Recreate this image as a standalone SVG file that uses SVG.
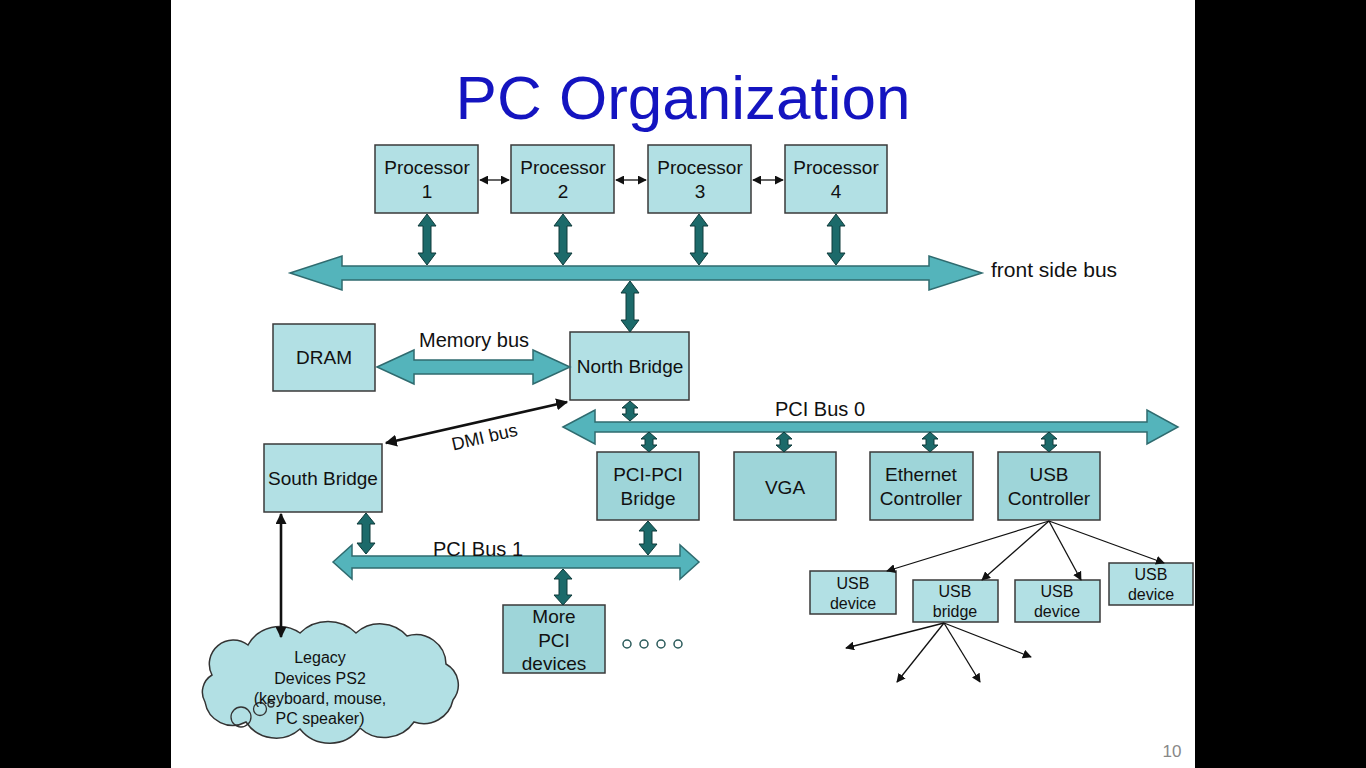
<svg xmlns="http://www.w3.org/2000/svg" width="1366" height="768" viewBox="0 0 1366 768">
<defs>
<style>
.t{font-family:"Liberation Sans",Arial,sans-serif;fill:#111;text-anchor:middle}
.box{fill:#b2e0e4;stroke:#3a3a3a;stroke-width:1.5}
.box2{fill:#9ed5d9;stroke:#3a3a3a;stroke-width:1.5}
.bus{fill:#54b4bb;stroke:#2f6b6f;stroke-width:1.5}
.va{fill:#1c6a6a;stroke:#0e3a3a;stroke-width:1}
.thin{stroke:#111;stroke-width:1.3;fill:none}
.thick{stroke:#111;stroke-width:2.6;fill:none}
</style>
<marker id="ah" viewBox="0 0 10 10" refX="9" refY="5" markerWidth="9" markerHeight="9" markerUnits="userSpaceOnUse" orient="auto-start-reverse"><path d="M0,0 L10,5 L0,10 z" fill="#111"/></marker>
<marker id="ahs" viewBox="0 0 10 10" refX="9" refY="5" markerWidth="11" markerHeight="11" markerUnits="userSpaceOnUse" orient="auto-start-reverse"><path d="M0,0 L10,5 L0,10 z" fill="#111"/></marker>
<marker id="ahb" viewBox="0 0 10 10" refX="9" refY="5" markerWidth="12" markerHeight="12" markerUnits="userSpaceOnUse" orient="auto-start-reverse"><path d="M0,0 L10,5 L0,10 z" fill="#111"/></marker>
</defs>
<rect x="0" y="0" width="1366" height="768" fill="#000"/>
<rect x="171" y="0" width="1024" height="768" fill="#fff"/>
<text x="683" y="119" font-family="Liberation Sans,Arial,sans-serif" font-size="62" fill="#1414c0" text-anchor="middle">PC Organization</text>

<g id="proc1"><rect class="box" x="375" y="145" width="103" height="68"/><text class="t" x="427" y="174" font-size="19">Processor</text><text class="t" x="427" y="198" font-size="19">1</text></g>
<g id="proc2"><rect class="box" x="511" y="145" width="103" height="68"/><text class="t" x="563" y="174" font-size="19">Processor</text><text class="t" x="563" y="198" font-size="19">2</text></g>
<g id="proc3"><rect class="box" x="648" y="145" width="103" height="68"/><text class="t" x="700" y="174" font-size="19">Processor</text><text class="t" x="700" y="198" font-size="19">3</text></g>
<g id="proc4"><rect class="box" x="785" y="145" width="102" height="68"/><text class="t" x="836" y="174" font-size="19">Processor</text><text class="t" x="836" y="198" font-size="19">4</text></g>

<g id="dram"><rect class="box" x="273" y="324" width="102" height="67"/><text class="t" x="324" y="364" font-size="19">DRAM</text></g>
<g id="northbridge"><rect class="box" x="570" y="332" width="119" height="68"/><text class="t" x="630" y="373" font-size="19">North Bridge</text></g>
<g id="southbridge"><rect class="box" x="264" y="444" width="118" height="68"/><text class="t" x="323" y="485" font-size="19">South Bridge</text></g>

<g id="pcipci"><rect class="box2" x="597" y="452" width="102" height="68"/><text class="t" x="648" y="481" font-size="19">PCI-PCI</text><text class="t" x="648" y="505" font-size="19">Bridge</text></g>
<g id="vga"><rect class="box2" x="734" y="452" width="102" height="68"/><text class="t" x="785" y="494" font-size="19">VGA</text></g>
<g id="ethernet"><rect class="box2" x="870" y="452" width="103" height="68"/><text class="t" x="921" y="481" font-size="19">Ethernet</text><text class="t" x="921" y="505" font-size="19">Controller</text></g>
<g id="usbctrl"><rect class="box2" x="998" y="452" width="102" height="68"/><text class="t" x="1049" y="481" font-size="19">USB</text><text class="t" x="1049" y="505" font-size="19">Controller</text></g>

<g id="morepci"><rect class="box2" x="503" y="605" width="102" height="68"/><text class="t" x="554" y="623" font-size="19">More</text><text class="t" x="554" y="647" font-size="19">PCI</text><text class="t" x="554" y="670" font-size="19">devices</text></g>
<g id="dots" fill="none" stroke="#2a5a5a" stroke-width="1.5"><circle cx="627" cy="644" r="4"/><circle cx="644" cy="644" r="4"/><circle cx="661" cy="644" r="4"/><circle cx="678" cy="644" r="4"/></g>

<g id="usbdev1"><rect class="box" x="810" y="571" width="86" height="43"/><text class="t" x="853" y="589" font-size="16">USB</text><text class="t" x="853" y="609" font-size="16">device</text></g>
<g id="usbbridge"><rect class="box" x="913" y="580" width="85" height="42"/><text class="t" x="955" y="597" font-size="16">USB</text><text class="t" x="955" y="617" font-size="16">bridge</text></g>
<g id="usbdev2"><rect class="box" x="1015" y="580" width="85" height="42"/><text class="t" x="1057" y="597" font-size="16">USB</text><text class="t" x="1057" y="617" font-size="16">device</text></g>
<g id="usbdev3"><rect class="box" x="1109" y="563" width="84" height="42"/><text class="t" x="1151" y="580" font-size="16">USB</text><text class="t" x="1151" y="600" font-size="16">device</text></g>

<g id="legacy">
<path d="M212,675 A24,24 0 0 1 248,645 A36,36 0 0 1 300,633 A40,40 0 0 1 356,633 A36,36 0 0 1 407,636 A30,30 0 0 1 446,664 A24,24 0 0 1 453,700 A30,30 0 0 1 414,722 A36,36 0 0 1 360,728 A38,38 0 0 1 300,729 A36,36 0 0 1 246,722 A28,28 0 0 1 205,702 A20,20 0 0 1 212,675 Z" fill="#b2e0e4" stroke="#333" stroke-width="1.5"/>
<circle cx="241" cy="717" r="10" fill="none" stroke="#333" stroke-width="1.3"/>
<circle cx="260" cy="709" r="6.5" fill="none" stroke="#333" stroke-width="1.3"/>
<circle cx="271" cy="704" r="3" fill="none" stroke="#333" stroke-width="1.3"/>
<text class="t" x="320" y="663" font-size="16">Legacy</text>
<text class="t" x="320" y="684" font-size="16">Devices PS2</text>
<text class="t" x="320" y="704" font-size="16">(keyboard, mouse,</text>
<text class="t" x="320" y="724" font-size="16">PC speaker)</text>
</g>

<g id="connectors">
<line class="thin" x1="480" y1="180" x2="509" y2="180" marker-start="url(#ah)" marker-end="url(#ah)"/>
<line class="thin" x1="616" y1="180" x2="646" y2="180" marker-start="url(#ah)" marker-end="url(#ah)"/>
<line class="thin" x1="753" y1="180" x2="783" y2="180" marker-start="url(#ah)" marker-end="url(#ah)"/>
<polygon class="bus" points="290,273 342,256 342,266 929,266 929,256 982,273 929,290 929,280 342,280 342,290"/>
<polygon class="va" points="427,214 436,226 431,226 431,253 436,253 427,265 418,253 423,253 423,226 418,226"/>
<polygon class="va" points="563,214 572,226 567,226 567,253 572,253 563,265 554,253 559,253 559,226 554,226"/>
<polygon class="va" points="699,214 708,226 703,226 703,253 708,253 699,265 690,253 695,253 695,226 690,226"/>
<polygon class="va" points="836,214 845,226 840,226 840,253 845,253 836,265 827,253 832,253 832,226 827,226"/>
<polygon class="va" points="630,281 639,293 634,293 634,320 639,320 630,332 621,320 626,320 626,293 621,293"/>
<polygon class="bus" points="377,367 414,350 414,360 533,360 533,350 570,367 533,384 533,374 414,374 414,384"/>
<line class="thick" x1="567" y1="402" x2="386" y2="443" marker-start="url(#ahb)" marker-end="url(#ahb)"/>
<polygon class="bus" points="563,427 595,410 595,422 1147,422 1147,410 1178,427 1147,444 1147,432 595,432 595,444"/>
<polygon class="va" points="630,401 638,408 634,408 634,414 638,414 630,421 622,414 626,414 626,408 622,408"/>
<polygon class="va" points="649,432 657,439 653,439 653,445 657,445 649,452 641,445 645,445 645,439 641,439"/>
<polygon class="va" points="784,432 792,439 788,439 788,445 792,445 784,452 776,445 780,445 780,439 776,439"/>
<polygon class="va" points="930,432 938,439 934,439 934,445 938,445 930,452 922,445 926,445 926,439 922,439"/>
<polygon class="va" points="1049,432 1057,439 1053,439 1053,445 1057,445 1049,452 1041,445 1045,445 1045,439 1041,439"/>
<polygon class="bus" points="333,562 352,545 352,556 680,556 680,545 699,562 680,579 680,568 352,568 352,579"/>
<polygon class="va" points="366,513 375,524 370,524 370,543 375,543 366,554 357,543 362,543 362,524 357,524"/>
<polygon class="va" points="648,521 657,531 652,531 652,544 657,544 648,555 639,544 644,544 644,531 639,531"/>
<polygon class="va" points="563,569 572,579 567,579 567,595 572,595 563,605 554,595 559,595 559,579 554,579"/>
<line class="thick" x1="281" y1="514" x2="281" y2="637" marker-start="url(#ahs)" marker-end="url(#ahs)"/>
<line class="thin" x1="1049" y1="521" x2="887" y2="571" marker-end="url(#ah)"/>
<line class="thin" x1="1049" y1="521" x2="982" y2="580" marker-end="url(#ah)"/>
<line class="thin" x1="1049" y1="521" x2="1081" y2="580" marker-end="url(#ah)"/>
<line class="thin" x1="1049" y1="521" x2="1164" y2="563" marker-end="url(#ah)"/>
<line class="thin" x1="944" y1="623" x2="846" y2="648" marker-end="url(#ah)"/>
<line class="thin" x1="944" y1="623" x2="897" y2="682" marker-end="url(#ah)"/>
<line class="thin" x1="944" y1="623" x2="980" y2="682" marker-end="url(#ah)"/>
<line class="thin" x1="944" y1="623" x2="1031" y2="657" marker-end="url(#ah)"/>
</g>

<g id="bus-labels">
<text x="991" y="277" font-family="Liberation Sans,Arial,sans-serif" font-size="21" fill="#111">front side bus</text>
<text class="t" x="474" y="347" font-size="20">Memory bus</text>
<text class="t" x="0" y="0" font-size="18" transform="translate(486,443) rotate(-13)">DMI bus</text>
<text class="t" x="820" y="416" font-size="20">PCI Bus 0</text>
<text class="t" x="478" y="556" font-size="20">PCI Bus 1</text>
</g>

<text x="1172" y="757" font-family="Liberation Sans,Arial,sans-serif" font-size="17" fill="#888" text-anchor="middle">10</text>
</svg>
